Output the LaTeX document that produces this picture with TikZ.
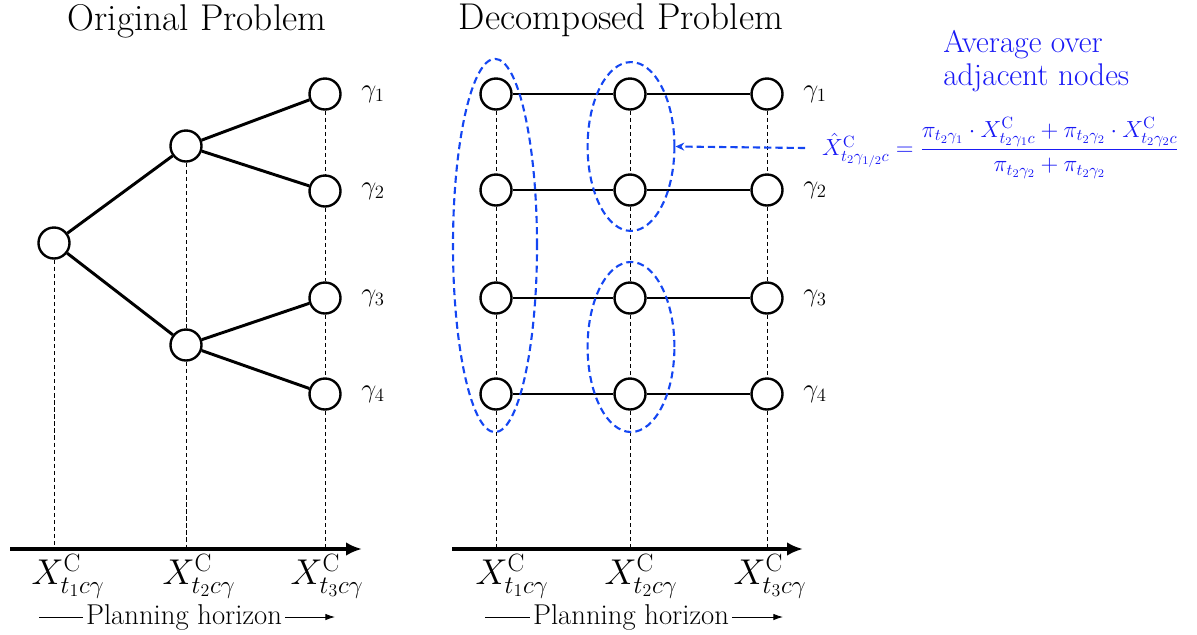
\RequirePackage{fix-cm}
\documentclass[tikz,border=0pt]{standalone}
\usepackage{amsmath,amssymb}
\usepackage{xcolor}
\usepackage{tikz}
\usetikzlibrary{arrows.meta,shapes.geometric}
\definecolor{avgtxt}{HTML}{1A1AF5}
\definecolor{avgline}{HTML}{1446F2}
\tikzset{fig/.style={line join=round,>=Stealth,x=0.025cm,y=-0.025cm},
  stnode/.style={circle,draw,line width=1.7pt,fill=white,minimum size=0.775cm,inner sep=0pt},
  branch/.style={line width=2.1pt},
  vguide/.style={densely dashed,line width=0.5pt},
  haxis/.style={line width=2.8pt,-{Latex[length=4mm,width=3.4mm]}},
  grp/.style={draw=avgline,ellipse,line width=1.5pt,dash pattern=on 5pt off 3pt,inner sep=0pt},
  ttl/.style={font=\fontsize{26.5}{30}\selectfont,inner sep=1pt},
  xlab/.style={font=\fontsize{25.5}{30}\selectfont},
  glab/.style={font=\fontsize{19}{24}\selectfont},
  plab/.style={font=\fontsize{20.4}{24}\selectfont,inner sep=2pt}}

\begin{document}
\begin{tikzpicture}[fig]
  \useasboundingbox (0,0) rectangle (1197,634);
  \node[ttl](ttlL)at(197,21){Original Problem};
  \node[ttl](ttlR)at(621,20){Decomposed Problem};
  % original tree
  \node[stnode](r)at(54,243){};
  \node[stnode](m1)at(186,146){};
  \node[stnode](m2)at(186,345){};
  \foreach\i/\y in{1/94,2/191,3/298,4/394}{
    \node[stnode](l\i)at(325,\y){};
    \node[glab](lg\i)at(373,\y){$\gamma_\i$};}
  \draw[branch](r)--(m1) (r)--(m2) (m1)--(l1) (m1)--(l2) (m2)--(l3) (m2)--(l4);
  \coordinate(axLs)at(10,549);\coordinate(axLe)at(362,549);
  \draw[vguide](r.south)--(r|-axLs);
  \draw[vguide](m1.south)--(m2.north) (m2.south)--(m2|-axLs);
  \draw[vguide](l1.south)--(l2.north) (l2.south)--(l3.north) (l3.south)--(l4.north) (l4.south)--(l4|-axLs);
  \draw[haxis](axLs)--(axLe);
  \node[xlab](xa1)at(68,576){$X^{\mathrm{C}}_{t_1c\gamma}$};
  \node[xlab](xa2)at(199,576){$X^{\mathrm{C}}_{t_2c\gamma}$};
  \node[xlab](xa3)at(327,576){$X^{\mathrm{C}}_{t_3c\gamma}$};
  \node[plab](phL)at(184,617){Planning horizon};
  \coordinate(phLs)at(39,617);\coordinate(phLe)at(335,617);
  \draw[line width=0.6pt](phLs)--(phL.west);
  \draw[line width=0.6pt,-{Latex[length=2.4mm,width=1.6mm]}](phL.east)--(phLe);
  % decomposed problem
  \foreach\c/\x in{1/496,2/630,3/767}
    \foreach\i/\y in{1/94,2/190,3/298,4/394}
      \node[stnode](d\c\i)at(\x,\y){};
  \foreach\i/\y in{1/94,2/190,3/298,4/394}{
    \draw[branch](d1\i)--(d2\i)--(d3\i);
    \node[glab](dg\i)at(815,\y){$\gamma_\i$};}
  \coordinate(axRs)at(452,549);\coordinate(axRe)at(803,549);
  \foreach\c in{1,2,3}
    \draw[vguide](d\c1.south)--(d\c2.north) (d\c2.south)--(d\c3.north)
      (d\c3.south)--(d\c4.north) (d\c4.south)--(d\c4|-axRs);
  \draw[haxis](axRs)--(axRe);
  \node[xlab](xb1)at(512,576){$X^{\mathrm{C}}_{t_1c\gamma}$};
  \node[xlab](xb2)at(641,576){$X^{\mathrm{C}}_{t_2c\gamma}$};
  \node[xlab](xb3)at(770,576){$X^{\mathrm{C}}_{t_3c\gamma}$};
  \node[plab](phR)at(631,617){Planning horizon};
  \coordinate(phRs)at(485,617);\coordinate(phRe)at(783,617);
  \draw[line width=0.6pt](phRs)--(phR.west);
  \draw[line width=0.6pt,-{Latex[length=2.4mm,width=1.6mm]}](phR.east)--(phRe);
  % averaging groups
  \node[grp,minimum width=2.1cm,minimum height=9.33cm](g1)at(495,245.5){};
  \node[grp,minimum width=2.17cm,minimum height=4.22cm](g2)at(631,146.5){};
  \node[grp,minimum width=2.17cm,minimum height=4.25cm](g3)at(631,347){};
  \node[font=\fontsize{22.3}{24}\selectfont,avgtxt,align=left,anchor=west,inner sep=0pt](avg)at(943,61){Average over\\adjacent nodes};
  \node[font=\fontsize{16.6}{19}\selectfont,avgtxt,anchor=west,inner xsep=12pt](eq)at(805,148)
    {$\hat{X}^{\mathrm{C}}_{t_2\gamma_{1/2}c}=\dfrac{\pi_{t_2\gamma_1}\cdot X^{\mathrm{C}}_{t_2\gamma_1c}+\pi_{t_2\gamma_2}\cdot X^{\mathrm{C}}_{t_2\gamma_2c}}{\pi_{t_2\gamma_2}+\pi_{t_2\gamma_2}}$};
  \draw[avgline,line width=1.5pt,dash pattern=on 5pt off 3pt,-{Stealth[length=2.2mm,width=2mm]}](eq.west)--(g2.east);
\end{tikzpicture}
\end{document}
